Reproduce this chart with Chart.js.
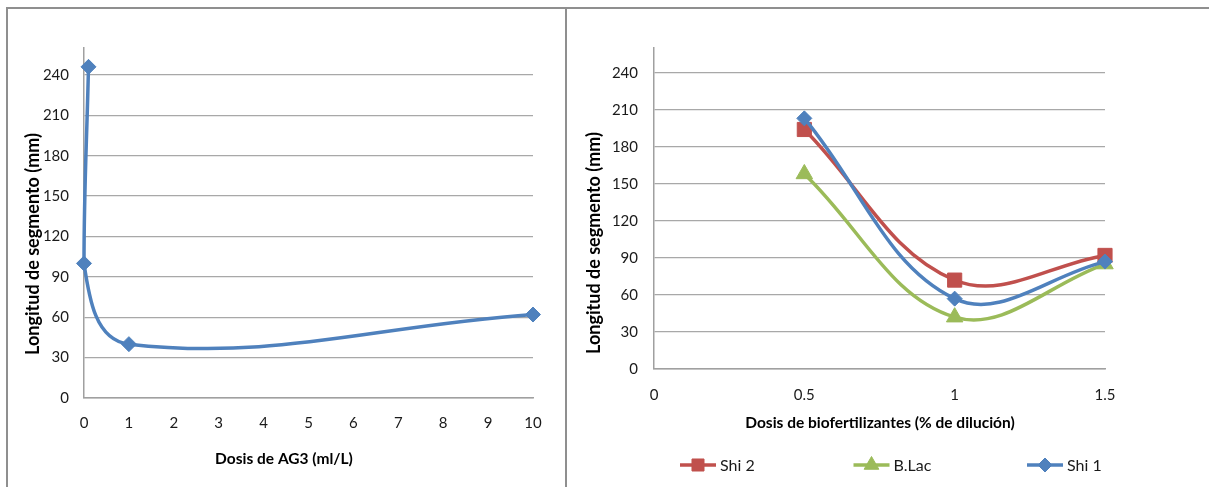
<!DOCTYPE html>
<html>
<head>
<meta charset="utf-8">
<title>Longitud de segmento</title>
<script src="https://cdn.jsdelivr.net/npm/chart.js@4.4.1/dist/chart.umd.min.js"></script>
<style>
  html, body { margin: 0; padding: 0; background: #ffffff; }
  #page { position: relative; width: 1209px; height: 487px; overflow: hidden; background: #ffffff; }
  #page canvas { position: absolute; top: 0; }
  .rule { position: absolute; background: #8f8f8f; }
</style>
</head>
<body>
<div id="page">
  <canvas id="ag3" width="565" height="487" style="left:0"></canvas>
  <canvas id="bio" width="642" height="487" style="left:567px"></canvas>
  <div class="rule" style="left:6px;top:7px;width:1203px;height:2px"></div>
  <div class="rule" style="left:6px;top:7px;width:2px;height:480px"></div>
  <div class="rule" style="left:565px;top:7px;width:2px;height:480px"></div>
</div>
<script>
// ---- AG3 dose response (left panel) ----
const ag3Dosis    = [0.1, 0, 1, 10];
const ag3Longitud = [246, 100, 40, 62];
const ag3XTicks   = [0, 1, 2, 3, 4, 5, 6, 7, 8, 9, 10];

// ---- biofertiliser dilution (right panel) ----
const bioDosis   = [0.5, 1, 1.5];
const shi2       = [194, 72, 92];
const bLac       = [158, 42, 85];
const shi1       = [203, 57, 87];
const bioXTicks  = [0, 0.5, 1, 1.5];
const bioSeries  = ['Shi 2', 'B.Lac', 'Shi 1'];

// shared value axis
const yTicks = [0, 30, 60, 90, 120, 150, 180, 210, 240];
const Y_MAX  = 260;

const BLUE = '#4F81BD', RED = '#C0504D', GREEN = '#9BBB59';
const FONT = 'Lato, "Open Sans", sans-serif';
const TICK_FONT = { family: FONT, size: 15 };

Chart.defaults.font.family = FONT;
Chart.defaults.color = '#1a1a1a';

const pts = (xs, ys) => xs.map((x, i) => ({ x, y: ys[i] }));
const fixedTicks = list => scale => { scale.ticks = list.map(v => ({ value: v })); };

// bold axis titles placed at given canvas positions
const axisTitles = {
  id: 'axisTitles',
  afterDraw(chart, args, o) {
    const ctx = chart.ctx;
    ctx.save();
    ctx.fillStyle = '#000';
    ctx.textAlign = 'center';
    ctx.textBaseline = 'middle';
    ctx.font = `bold ${o.x.size}px ${FONT}`;
    ctx.fillText(o.x.text, o.x.cx, o.x.cy);
    ctx.font = `bold ${o.y.size}px ${FONT}`;
    ctx.translate(o.y.cx, o.y.cy);
    ctx.rotate(-Math.PI / 2);
    ctx.fillText(o.y.text, 0, 0);
    ctx.restore();
  }
};

// legend row: line segment with the series marker, then the name
const lineKey = {
  id: 'lineKey',
  afterDraw(chart, args, o) {
    const ctx = chart.ctx;
    ctx.save();
    ctx.font = `${o.size}px ${FONT}`;
    ctx.textBaseline = 'middle';
    ctx.textAlign = 'left';
    o.order.forEach((dsIndex, i) => {
      const ds = chart.data.datasets[dsIndex];
      const x0 = o.x + i * o.step;
      const y = o.y;
      ctx.strokeStyle = ds.borderColor;
      ctx.lineWidth = 3.5;
      ctx.beginPath();
      ctx.moveTo(x0, y);
      ctx.lineTo(x0 + o.len, y);
      ctx.stroke();
      ctx.fillStyle = ds.pointBackgroundColor;
      ctx.strokeStyle = ds.pointBorderColor;
      ctx.lineWidth = 1;
      Chart.helpers.drawPoint(ctx, {
        pointStyle: ds.pointStyle, rotation: 0,
        radius: ds.keyRadius, borderWidth: 1
      }, x0 + o.len / 2, y);
      ctx.fillStyle = '#1a1a1a';
      ctx.fillText(ds.label, x0 + o.len + 4, y + 1);
    });
    ctx.restore();
  }
};

const valueAxis = (width, pad) => ({
  type: 'linear', min: 0, max: Y_MAX,
  afterBuildTicks: fixedTicks(yTicks),
  afterFit: s => { s.width = width; },
  grid: { color: '#a8a8a8', lineWidth: 1.2, drawTicks: false },
  border: { display: true, color: '#a0a0a0', width: 1.5 },
  ticks: { padding: pad, font: TICK_FONT, color: '#1a1a1a', callback: v => String(v) }
});

const doseAxis = (max, list, height, pad) => ({
  type: 'linear', min: 0, max,
  afterBuildTicks: fixedTicks(list),
  afterFit: s => { s.height = height; },
  grid: { display: false, drawTicks: false },
  border: { display: true, color: '#a0a0a0', width: 1.5 },
  ticks: { padding: pad, font: TICK_FONT, color: '#1a1a1a', callback: v => String(v) }
});

const series = (label, xs, ys, color, style, radius, keyRadius, order, tension) => ({
  label, data: pts(xs, ys), showLine: true,
  borderColor: color, borderWidth: 3.5, tension,
  pointStyle: style, pointRadius: radius, pointHoverRadius: radius,
  pointBackgroundColor: color, pointBorderColor: color, pointBorderWidth: 1,
  keyRadius, order, clip: false
});

new Chart(document.getElementById('ag3'), {
  type: 'scatter',
  data: { datasets: [series('AG3', ag3Dosis, ag3Longitud, BLUE, 'rectRot', 7.5, 7, 0, 0.4)] },
  options: {
    responsive: false, animation: false, devicePixelRatio: 1,
    layout: { padding: { left: 0, top: 48, right: 32, bottom: 0 } },
    scales: { x: doseAxis(10, ag3XTicks, 89, 16), y: valueAxis(84, 15) },
    plugins: {
      legend: { display: false }, tooltip: { enabled: false },
      axisTitles: {
        x: { text: 'Dosis de AG3 (ml/L)', cx: 284, cy: 459, size: 15.5 },
        y: { text: 'Longitud de segmento (mm)', cx: 33, cy: 244, size: 18 }
      }
    }
  },
  plugins: [axisTitles]
});

new Chart(document.getElementById('bio'), {
  type: 'scatter',
  data: {
    datasets: [
      series(bioSeries[0], bioDosis, shi2, RED, 'rect', 10, 8.5, 2, 0.38),
      series(bioSeries[1], bioDosis, bLac, GREEN, 'triangle', 9.5, 8.5, 1, 0.38),
      series(bioSeries[2], bioDosis, shi1, BLUE, 'rectRot', 7.5, 7, 0, 0.38)
    ]
  },
  options: {
    responsive: false, animation: false, devicePixelRatio: 1,
    layout: { padding: { left: 0, top: 48, right: 104, bottom: 0 } },
    scales: { x: doseAxis(1.5, bioXTicks, 118, 17), y: valueAxis(87, 16) },
    plugins: {
      legend: { display: false }, tooltip: { enabled: false },
      axisTitles: {
        x: { text: 'Dosis de biofertilizantes (% de dilución)', cx: 313, cy: 423, size: 15.5 },
        y: { text: 'Longitud de segmento (mm)', cx: 27, cy: 243, size: 18 }
      },
      lineKey: { order: [0, 1, 2], x: 113, step: 173.5, len: 36, y: 465, size: 16 }
    }
  },
  plugins: [axisTitles, lineKey]
});
</script>
</body>
</html>
